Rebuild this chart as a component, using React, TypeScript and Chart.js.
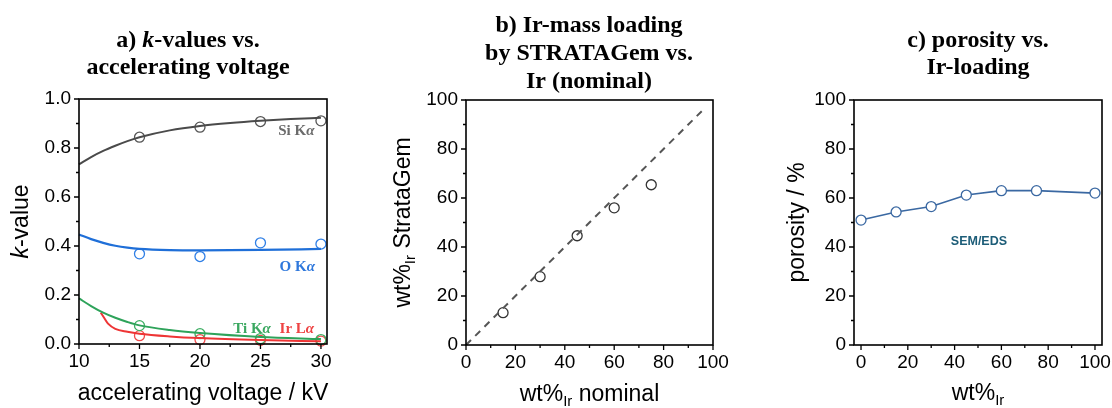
import React, { useEffect, useRef } from 'react';
import { Chart, registerables } from 'chart.js';
Chart.register(...registerables);

const SERIF = '"Liberation Serif", "Times New Roman", serif';
const SANS = '"Liberation Sans", Arial, sans-serif';

// ---------- Panel a data ----------
const voltages = [15, 20, 25, 30];
const siK = [0.844, 0.885, 0.908, 0.911];
const oK = [0.368, 0.357, 0.413, 0.408];
const tiK = [0.075, 0.042, 0.022, 0.018];
const irL = [0.034, 0.018, 0.015, 0.012];

const siFitX = [10, 11, 12, 13, 14, 15, 17.5, 20, 22.5, 25, 27.5, 30];
const siFitY = [0.733, 0.763, 0.788, 0.809, 0.828, 0.844, 0.872, 0.89, 0.902, 0.911, 0.918, 0.923];
const oFitX = [10, 11, 12, 13, 14, 15, 17.5, 20, 25, 30];
const oFitY = [0.447, 0.428, 0.413, 0.401, 0.393, 0.388, 0.383, 0.382, 0.384, 0.388];
const tiFitX = [10, 11, 12, 13, 14, 15, 17.5, 20, 25, 30];
const tiFitY = [0.186, 0.155, 0.128, 0.107, 0.09, 0.076, 0.057, 0.045, 0.029, 0.02];
const irFitX = [11.8, 12.1, 12.4, 13, 14, 15, 17.5, 20, 25, 30];
const irFitY = [0.128, 0.105, 0.083, 0.062, 0.05, 0.042, 0.031, 0.024, 0.016, 0.011];

const aXTicks = [10, 15, 20, 25, 30];
const aYTicks = [0, 0.2, 0.4, 0.6, 0.8, 1.0];

// ---------- Panel b data ----------
const nominal = [15, 30, 45, 60, 75];
const strataGem = [13.2, 27.9, 44.6, 56.0, 65.4];
const refLineX = [0, 96];
const refLineY = [0, 96];
const bTicks = [0, 20, 40, 60, 80, 100];

// ---------- Panel c data ----------
const irLoading = [0, 15, 30, 45, 60, 75, 100];
const porosity = [51.0, 54.3, 56.5, 61.2, 63.0, 63.0, 62.0];
const cTicks = [0, 20, 40, 60, 80, 100];

type Seg = { t: string; f: string; dy?: number; c?: string };

const zip = (xs: number[], ys: number[]) => xs.map((x, i) => ({ x, y: ys[i] }));

function drawSegs(ctx: CanvasRenderingContext2D, segs: Seg[], x: number, y: number, align: string, color: string) {
  const ws = segs.map((s) => {
    ctx.font = s.f;
    return ctx.measureText(s.t).width;
  });
  const total = ws.reduce((a, b) => a + b, 0);
  let cx = align === 'center' ? x - total / 2 : align === 'right' ? x - total : x;
  ctx.textAlign = 'left';
  ctx.textBaseline = 'alphabetic';
  segs.forEach((s, i) => {
    ctx.font = s.f;
    ctx.fillStyle = s.c || color;
    ctx.fillText(s.t, cx, y + (s.dy || 0));
    cx += ws[i];
  });
}

interface Decor {
  titles: { segs: Seg[]; x: number; y: number }[];
  xTitle: { segs: Seg[]; y: number };
  yTitle: { segs: Seg[]; x: number };
  notes: { segs: Seg[]; x: number; y: number; color: string; align: string }[];
  xMinor: number;
  xMajor: number;
  yMinor: number;
  yMajor: number;
}

function makeDecor(d: Decor) {
  return {
    id: 'decor',
    afterDraw(chart: any) {
      const ctx: CanvasRenderingContext2D = chart.ctx;
      const a = chart.chartArea;
      const xs = chart.scales.x;
      const ys = chart.scales.y;
      ctx.save();
      // frame
      ctx.strokeStyle = '#000';
      ctx.lineWidth = 1.6;
      ctx.strokeRect(a.left, a.top, a.right - a.left, a.bottom - a.top);
      // ticks
      ctx.lineWidth = 1.3;
      ctx.beginPath();
      const n0 = Math.ceil(xs.min / d.xMinor - 1e-9);
      const n1 = Math.floor(xs.max / d.xMinor + 1e-9);
      for (let i = n0; i <= n1; i++) {
        const v = i * d.xMinor;
        const maj = Math.abs(v / d.xMajor - Math.round(v / d.xMajor)) < 1e-6;
        const p = xs.getPixelForValue(v);
        ctx.moveTo(p, a.bottom);
        ctx.lineTo(p, a.bottom + (maj ? 5 : 3));
      }
      const m0 = Math.ceil(ys.min / d.yMinor - 1e-9);
      const m1 = Math.floor(ys.max / d.yMinor + 1e-9);
      for (let i = m0; i <= m1; i++) {
        const v = i * d.yMinor;
        const maj = Math.abs(v / d.yMajor - Math.round(v / d.yMajor)) < 1e-6;
        const p = ys.getPixelForValue(v);
        ctx.moveTo(a.left, p);
        ctx.lineTo(a.left - (maj ? 5 : 3), p);
      }
      ctx.stroke();
      // titles
      d.titles.forEach((t) => drawSegs(ctx, t.segs, t.x, t.y, 'center', '#000'));
      // axis titles
      drawSegs(ctx, d.xTitle.segs, (a.left + a.right) / 2, d.xTitle.y, 'center', '#000');
      ctx.save();
      ctx.translate(d.yTitle.x, (a.top + a.bottom) / 2);
      ctx.rotate(-Math.PI / 2);
      drawSegs(ctx, d.yTitle.segs, 0, 0, 'center', '#000');
      ctx.restore();
      // notes (in data coordinates)
      d.notes.forEach((n) =>
        drawSegs(ctx, n.segs, xs.getPixelForValue(n.x), ys.getPixelForValue(n.y), n.align, n.color)
      );
      ctx.restore();
    },
  };
}

interface Area { l: number; t: number; r: number; b: number }

function scalesFor(area: Area, H: number, x: any, y: any) {
  const tickFont = { family: SANS, size: 19 };
  return {
    x: {
      type: 'linear',
      min: x.min,
      max: x.max,
      grid: { display: false, drawTicks: false, tickLength: 0 },
      border: { display: false },
      ticks: { font: tickFont, color: '#000', padding: 6, maxRotation: 0, autoSkip: false, callback: x.fmt },
      afterBuildTicks: (s: any) => {
        s.ticks = x.ticks.map((v: number) => ({ value: v }));
      },
      afterFit: (s: any) => {
        s.height = H - area.b;
        s.paddingLeft = 0;
        s.paddingRight = 0;
      },
    },
    y: {
      type: 'linear',
      min: y.min,
      max: y.max,
      grid: { display: false, drawTicks: false, tickLength: 0 },
      border: { display: false },
      ticks: { font: tickFont, color: '#000', padding: 8, autoSkip: false, callback: y.fmt },
      afterBuildTicks: (s: any) => {
        s.ticks = y.ticks.map((v: number) => ({ value: v }));
      },
      afterFit: (s: any) => {
        s.width = area.l;
        s.paddingTop = 0;
        s.paddingBottom = 0;
      },
    },
  };
}

function baseOptions(area: Area, W: number, H: number, x: any, y: any) {
  return {
    responsive: false,
    animation: false,
    events: [],
    layout: { padding: { left: 0, top: area.t, right: W - area.r, bottom: 0 } },
    plugins: { legend: { display: false }, tooltip: { enabled: false }, title: { display: false } },
    scales: scalesFor(area, H, x, y),
  };
}

const H = 408;
const B24 = `bold 24px ${SERIF}`;
const BI24 = `italic bold 24px ${SERIF}`;
const A23 = `23px ${SANS}`;
const AI23 = `italic 23px ${SANS}`;
const SUB = `15px ${SANS}`;
const N15 = `bold 15px ${SERIF}`;
const NI15 = `italic bold 15px ${SERIF}`;

function lineDs(xs: number[], ys: number[], color: string, width: number) {
  return {
    data: zip(xs, ys),
    borderColor: color,
    borderWidth: width,
    pointRadius: 0,
    cubicInterpolationMode: 'monotone',
    fill: false,
    clip: false,
  };
}
function pointDs(xs: number[], ys: number[], color: string, bg = 'rgba(0,0,0,0)') {
  return {
    data: zip(xs, ys),
    showLine: false,
    borderColor: color,
    backgroundColor: bg,
    pointBorderColor: color,
    pointBackgroundColor: bg,
    pointRadius: 5,
    pointBorderWidth: 1.3,
    clip: false,
  };
}

function configA() {
  const W = 370;
  const area = { l: 79, t: 99, r: 327, b: 344 };
  const decor: Decor = {
    titles: [
      { segs: [{ t: 'a) ', f: B24 }, { t: 'k', f: BI24 }, { t: '-values vs.', f: B24 }], x: 188, y: 47 },
      { segs: [{ t: 'accelerating voltage', f: B24 }], x: 188, y: 74 },
    ],
    xTitle: { segs: [{ t: 'accelerating voltage / kV', f: A23 }], y: 400 },
    yTitle: { segs: [{ t: 'k', f: AI23 }, { t: '-value', f: A23 }], x: 28 },
    notes: [
      { segs: [{ t: 'Si K', f: N15 }, { t: 'α', f: NI15 }], x: 26.47, y: 0.853, color: '#6b6b6b', align: 'left' },
      { segs: [{ t: 'O K', f: N15 }, { t: 'α', f: NI15 }], x: 26.58, y: 0.296, color: '#2f78dc', align: 'left' },
      { segs: [{ t: 'Ti K', f: N15 }, { t: 'α', f: NI15 }], x: 22.75, y: 0.045, color: '#3aa860', align: 'left' },
      { segs: [{ t: 'Ir L', f: N15 }, { t: 'α', f: NI15 }], x: 26.58, y: 0.045, color: '#ee4444', align: 'left' },
    ],
    xMinor: 2.5,
    xMajor: 5,
    yMinor: 0.1,
    yMajor: 0.2,
  };
  return {
    W,
    config: {
      type: 'line',
      data: {
        datasets: [
          lineDs(siFitX, siFitY, '#4a4a4a', 2),
          lineDs(oFitX, oFitY, '#1f6fd8', 2.2),
          lineDs(tiFitX, tiFitY, '#2ea35a', 2),
          lineDs(irFitX, irFitY, '#ee3535', 2),
          pointDs(voltages, siK, '#555555'),
          pointDs(voltages, oK, '#2f7fe6'),
          pointDs(voltages, tiK, '#3cae62'),
          pointDs(voltages, irL, '#f04a4a'),
        ],
      },
      options: baseOptions(
        area,
        W,
        H,
        { min: 10, max: 30.5, ticks: aXTicks, fmt: (v: number) => String(v) },
        { min: 0, max: 1, ticks: aYTicks, fmt: (v: number) => v.toFixed(1) }
      ),
      plugins: [makeDecor(decor)],
    },
  };
}

function configB() {
  const W = 370;
  const area = { l: 96, t: 100, r: 343, b: 345 };
  const decor: Decor = {
    titles: [
      { segs: [{ t: 'b) Ir-mass loading', f: B24 }], x: 219, y: 32 },
      { segs: [{ t: 'by STRATAGem vs.', f: B24 }], x: 219, y: 60 },
      { segs: [{ t: 'Ir (nominal)', f: B24 }], x: 219, y: 88 },
    ],
    xTitle: { segs: [{ t: 'wt%', f: A23 }, { t: 'Ir', f: SUB, dy: 5 }, { t: ' nominal', f: A23 }], y: 401 },
    yTitle: { segs: [{ t: 'wt%', f: A23 }, { t: 'Ir', f: SUB, dy: 5 }, { t: ' StrataGem', f: A23 }], x: 40 },
    notes: [],
    xMinor: 10,
    xMajor: 20,
    yMinor: 10,
    yMajor: 20,
  };
  return {
    W,
    config: {
      type: 'line',
      data: {
        datasets: [
          {
            data: zip(refLineX, refLineY),
            borderColor: '#555555',
            borderWidth: 2,
            borderDash: [7, 6],
            pointRadius: 0,
            fill: false,
            clip: false,
          },
          pointDs(nominal, strataGem, '#333333'),
        ],
      },
      options: baseOptions(
        area,
        W,
        H,
        { min: 0, max: 100, ticks: bTicks, fmt: (v: number) => String(v) },
        { min: 0, max: 100, ticks: bTicks, fmt: (v: number) => String(v) }
      ),
      plugins: [makeDecor(decor)],
    },
  };
}

function configC() {
  const W = 372;
  const area = { l: 114, t: 100, r: 362, b: 345 };
  const decor: Decor = {
    titles: [
      { segs: [{ t: 'c) porosity vs.', f: B24 }], x: 238, y: 47 },
      { segs: [{ t: 'Ir-loading', f: B24 }], x: 238, y: 74 },
    ],
    xTitle: { segs: [{ t: 'wt%', f: A23 }, { t: 'Ir', f: SUB, dy: 5 }], y: 400 },
    yTitle: { segs: [{ t: 'porosity / %', f: A23 }], x: 64 },
    notes: [
      { segs: [{ t: 'SEM/EDS', f: `bold 12.5px ${SANS}` }], x: 50.4, y: 40.8, color: '#1d5d78', align: 'center' },
    ],
    xMinor: 10,
    xMajor: 20,
    yMinor: 10,
    yMajor: 20,
  };
  return {
    W,
    config: {
      type: 'line',
      data: {
        datasets: [
          {
            data: zip(irLoading, porosity),
            borderColor: '#3a68a2',
            borderWidth: 1.6,
            backgroundColor: '#ffffff',
            pointBorderColor: '#3a68a2',
            pointBackgroundColor: '#ffffff',
            pointRadius: 5,
            pointBorderWidth: 1.3,
            tension: 0,
            fill: false,
            clip: false,
          },
        ],
      },
      options: baseOptions(
        area,
        W,
        H,
        { min: -3, max: 103, ticks: cTicks, fmt: (v: number) => String(v) },
        { min: 0, max: 100, ticks: cTicks, fmt: (v: number) => String(v) }
      ),
      plugins: [makeDecor(decor)],
    },
  };
}

function Panel({ left, make }: { left: number; make: () => { W: number; config: any } }) {
  const ref = useRef<HTMLCanvasElement | null>(null);
  const spec = make();
  useEffect(() => {
    if (!ref.current) return;
    const chart = new Chart(ref.current, make().config);
    return () => chart.destroy();
  }, []);
  return (
    <canvas
      ref={ref}
      width={spec.W}
      height={H}
      style={{ position: 'absolute', left, top: 0, width: spec.W, height: H }}
    />
  );
}

export default function App() {
  return (
    <div style={{ position: 'fixed', left: 0, top: 0, width: 1112, height: 408, background: '#fff' }}>
      <Panel left={0} make={configA} />
      <Panel left={370} make={configB} />
      <Panel left={740} make={configC} />
    </div>
  );
}
